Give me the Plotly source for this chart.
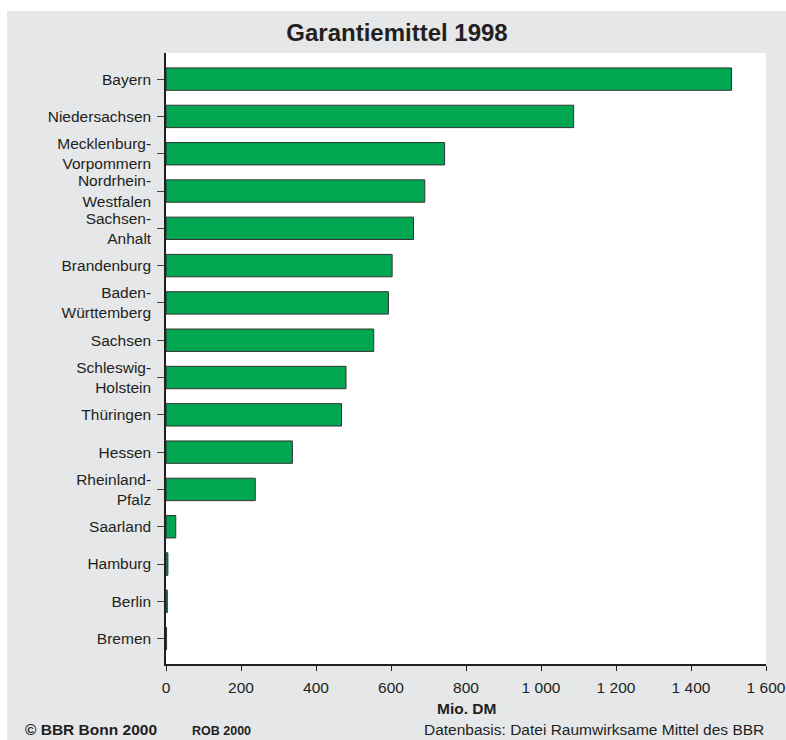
import plotly.graph_objects as go

# ── data ─────────────────────────────────────────────────────────────────────

LAENDER = [
    "Bayern", "Niedersachsen", "Mecklenburg-<br>Vorpommern", "Nordrhein-<br>Westfalen",
    "Sachsen-<br>Anhalt", "Brandenburg", "Baden-<br>Württemberg", "Sachsen",
    "Schleswig-<br>Holstein", "Thüringen", "Hessen", "Rheinland-<br>Pfalz",
    "Saarland", "Hamburg", "Berlin", "Bremen",
]
MIO_DM = [1508, 1087, 743, 690, 660, 603, 593, 554, 480, 468, 337, 238, 26, 5, 3.5, 1.5]
X_TICKS = [0, 200, 400, 600, 800, 1000, 1200, 1400, 1600]

# ── style ────────────────────────────────────────────────────────────────────

W, H = 786, 740
ML, MR, MT, MB = 166, 20, 53, 76
GREEN = "#00a650"
PANEL = "#e6e7e9"
FONT = "Liberation Sans, Arial, Helvetica, sans-serif"
INK = "#231f20"


def px_x(p):
    # window pixel -> paper coordinate
    return (p - ML) / (W - ML - MR)


def px_y(p):
    return (H - MB - p) / (H - MT - MB)


fig = go.Figure(go.Bar(
    x=MIO_DM, y=LAENDER, orientation="h",
    marker=dict(color=GREEN, line=dict(color="#333333", width=1)),
    width=0.6,
))

fig.update_layout(
    width=W, height=H,
    margin=dict(l=ML, r=MR, t=MT, b=MB, autoexpand=False),
    paper_bgcolor="white", plot_bgcolor="white",
    font=dict(family=FONT, size=15.5, color=INK),
    separators=", ",
    showlegend=False,
    title=dict(text="<b>Garantiemittel 1998</b>", x=397 / W, xanchor="center",
               y=1 - 33 / H, yanchor="middle", font=dict(size=24, color=INK)),
    xaxis=dict(range=[0, 1600], tickvals=X_TICKS, tickformat=",d", automargin=False,
               showgrid=False, zeroline=False, showline=True, linecolor=INK, linewidth=1.5,
               ticks="outside", ticklen=5, tickcolor=INK, tickwidth=1,
               tickfont=dict(size=15.5), ticklabelstandoff=4),
    yaxis=dict(categoryorder="array", categoryarray=LAENDER, automargin=False,
               range=[15.68, -0.7], showgrid=False, zeroline=False,
               showline=True, linecolor=INK, linewidth=1.5,
               ticks="outside", ticklen=7, tickcolor="#444444", tickwidth=1,
               ticklabelstandoff=3),
)

# grey panel behind the chart
fig.add_shape(type="rect", xref="paper", yref="paper", layer="below",
              x0=px_x(7), x1=px_x(W + 10), y0=px_y(H + 10), y1=px_y(11),
              fillcolor=PANEL, line_width=0)
fig.add_shape(type="rect", xref="paper", yref="paper", layer="below",
              x0=0, x1=1, y0=0, y1=1, fillcolor="white", line_width=0)

notes = [
    ("<b>Mio. DM</b>", 466, 708, "center", 15.5),
    ("<b>© BBR Bonn 2000</b>", 159, 730, "right", 15.5),
    ("<b>ROB 2000</b>", 190, 731, "left", 12.5),
    ("Datenbasis: Datei Raumwirksame Mittel des BBR", 766, 729, "right", 15.5),
]
for text, x, y, anchor, size in notes:
    fig.add_annotation(text=text, xref="paper", yref="paper", x=px_x(x), y=px_y(y),
                       xanchor=anchor, yanchor="middle", showarrow=False,
                       font=dict(size=size, color=INK))

# drop the default body margin so the figure fills the window exactly
fig.write_html("out.html", config={"displayModeBar": False},
               post_script="document.body.style.margin='0';document.body.style.overflow='hidden';")
